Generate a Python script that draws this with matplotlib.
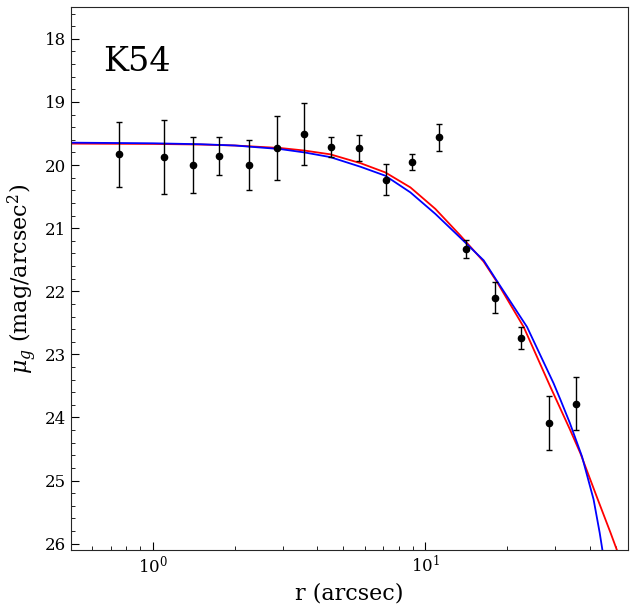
import numpy as np
import matplotlib
matplotlib.use('Agg')
import matplotlib.pyplot as plt
from matplotlib.ticker import MultipleLocator

plt.rcParams['font.family'] = 'DejaVu Serif'
plt.rcParams['mathtext.fontset'] = 'dejavuserif'

# observed profile
r_obs = [0.753, 1.101, 1.406, 1.752, 2.257, 2.858, 3.59, 4.495, 5.71, 7.15,
         8.91, 11.19, 14.05, 17.95, 22.36, 28.33, 35.58]
mu_obs = [19.83, 19.87, 20.00, 19.86, 20.00, 19.73, 19.51, 19.72, 19.73, 20.23,
          19.95, 19.56, 21.33, 22.10, 22.74, 24.09, 23.78]
mu_err = [0.52, 0.59, 0.44, 0.30, 0.39, 0.51, 0.49, 0.16, 0.21, 0.24,
          0.13, 0.21, 0.14, 0.24, 0.17, 0.43, 0.42]

# red model curve
r_red = [0.5, 1.0, 1.5, 2.0, 2.94, 3.6, 4.48, 5.78, 7.13, 8.81, 10.88, 13.44,
         16.36, 18.32, 22.94, 28.73, 33.9, 37.02, 42.9, 47.8, 50.4]
mu_red = [19.66, 19.665, 19.675, 19.69, 19.73, 19.77, 19.83, 19.97, 20.117, 20.354,
          20.695, 21.117, 21.53, 21.855, 22.566, 23.513, 24.19, 24.566, 25.30,
          25.83, 26.10]

# blue model curve
r_blue = [0.5, 1.0, 1.5, 2.0, 2.94, 3.6, 4.48, 5.78, 7.13, 8.81, 10.88, 13.44,
          16.36, 18.32, 23.6, 29.54, 31.3, 33.9, 37.55, 41.4, 43.6, 44.6]
mu_blue = [19.645, 19.655, 19.67, 19.69, 19.747, 19.80, 19.874, 20.027, 20.169,
           20.433, 20.774, 21.153, 21.51, 21.84, 22.566, 23.46, 23.72, 24.09,
           24.62, 25.30, 25.83, 26.10]

fig = plt.figure(figsize=(6.34, 6.08), dpi=100)
ax = fig.add_axes([0.1115, 0.0954, 0.8795, 0.8926])

ax.plot(r_red, mu_red, color='red', lw=1.3)
ax.plot(r_blue, mu_blue, color='blue', lw=1.3)
ax.errorbar(r_obs, mu_obs, yerr=mu_err, fmt='o', color='black', ms=4.5,
            capsize=2.5, elinewidth=1, capthick=1)

ax.set_xscale('log')
ax.set_xlim(0.5, 55.5)
ax.set_ylim(26.1, 17.5)
ax.yaxis.set_major_locator(MultipleLocator(1))
ax.yaxis.set_minor_locator(MultipleLocator(0.2))

ax.tick_params(which='both', direction='in', top=False, right=False, labelsize=12)
ax.tick_params(which='major', length=6)
ax.tick_params(which='minor', length=3)
for s in ax.spines.values():
    s.set_color('#262626')

ax.set_xlabel('r (arcsec)', fontsize=16)
ax.set_ylabel(r'$\mu_g$ (mag/arcsec$^2$)', fontsize=16)
ax.text(0.058, 0.8826, 'K54', transform=ax.transAxes, fontsize=24,
        ha='left', va='baseline')

fig.savefig('out.png', dpi=100)
